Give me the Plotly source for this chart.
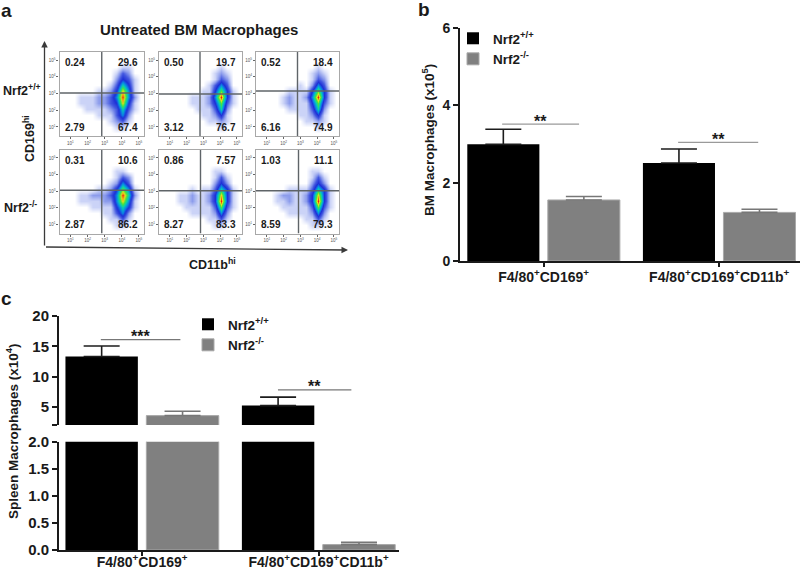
import numpy as np
import plotly.graph_objects as go

W, H = 800, 570
FONT = "Liberation Sans"
INK = "#1a1a1a"

# ---------- panel a : flow cytometry (hand-read density levels, top row first) ----------
density_r1c1 = ["00000000000000","00000000000000","00000000001100","00000000013200",
                "00000000024310","00000000136410","00000011248510","00011122359520",
                "00011122348410","00001111236310","00000011135200","00000000123100",
                "00000000011000","00000000000000"]
density_r1c2 = ["00000000000000","00000000000000","00000000001000","00000000012100",
                "00000000013200","00000000135300","00000001147410","00000111259410",
                "00000111247310","00000011136200","00000001124100","00000000112100",
                "00000000001000","00000000000000"]
density_r1c3 = ["00000000000000","00000000000000","00000000001000","00000000012100",
                "00000000013200","00000001025300","00000111147410","00001211259410",
                "00001211147310","00000111136200","00000001124100","00000000112100",
                "00000000001000","00000000000000"]
density_r2c1 = ["00000000000000","00000000000000","00000000000000","00000000011000",
                "00000000013200","00000000125300","00000011247510","00011222359620",
                "00011112258510","00000111146410","00000001135200","00000000113100",
                "00000000011000","00000000000000"]
density_r2c2 = ["00000000000000","00000000000000","00000000000000","00000000011000",
                "00000000013100","00000000024200","00000101136410","00011211248410",
                "00011211249410","00001111137310","00000111125200","00000000113100",
                "00000000011000","00000000000000"]
density_r2c3 = ["00000000000000","00000000000000","00000000000000","00000000011000",
                "00000000013100","00000000024200","00000111136410","00012211248410",
                "00011211249410","00001111137310","00000111125200","00000000113100",
                "00000000011000","00000000000000"]
densities = [density_r1c1, density_r1c2, density_r1c3, density_r2c1, density_r2c2, density_r2c3]

gate_x = [2.83, 2.80, 2.83, 2.83, 2.83, 2.89]
gate_y = [3.03, 2.97, 3.15, 3.06, 3.03, 3.03]
quadrants = [["0.24", "29.6", "2.79", "67.4"], ["0.50", "19.7", "3.12", "76.7"],
             ["0.52", "18.4", "6.16", "74.9"], ["0.31", "10.6", "2.87", "86.2"],
             ["0.86", "7.57", "8.27", "83.3"], ["1.03", "11.1", "8.59", "79.3"]]
flow_ticks = [1, 2, 3, 4, 5]
flow_ticktext = ["10<sup>1</sup>", "10<sup>2</sup>", "10<sup>3</sup>", "10<sup>4</sup>", "10<sup>5</sup>"]
flow_xrange = [0.36, 5.30]
flow_yrange = [0.46, 5.48]
flow_scale = [[0, "#ffffff"], [0.11, "#ccd4f7"], [0.22, "#8d9dec"], [0.33, "#4358e0"],
              [0.44, "#1d2fd6"], [0.55, "#0a86e6"], [0.66, "#06d0b0"], [0.77, "#48e23c"],
              [0.88, "#f2e41c"], [1, "#e8200c"]]

# ---------- panel b ----------
groups = [0, 1]
group_labels = ["F4/80<sup>+</sup>CD169<sup>+</sup>", "F4/80<sup>+</sup>CD169<sup>+</sup>CD11b<sup>+</sup>"]
wt_name, ko_name = "Nrf2<sup>+/+</sup>", "Nrf2<sup>-/-</sup>"
bm_wt, bm_wt_err = [3.0, 2.52], [0.39, 0.36]
bm_ko, bm_ko_err = [1.57, 1.25], [0.09, 0.08]
bm_sig_x = [[-0.236, 0.202], [0.766, 1.222]]
bm_sig_y = [3.52, 3.05]
bm_sig_text = ["**", "**"]

# ---------- panel c ----------
sp_wt, sp_wt_err = [13.3, 5.2], [1.75, 1.4]
sp_ko, sp_ko_err = [3.55, 0.10], [0.72, 0.04]
sp_sig_x = [[-0.234, 0.217], [0.77, 1.186]]
sp_sig_y = [16.1, 7.8]
sp_sig_text = ["***", "**"]


def px(x):
    return x / W


def py(y):
    return 1 - y / H


fig = go.Figure()
layout = dict(
    width=W, height=H, margin=dict(l=0, r=0, t=0, b=0, autoexpand=False), paper_bgcolor="white", plot_bgcolor="white",
    font=dict(family=FONT, color=INK), barmode="group", showlegend=True,
)
annotations = []


def note(text, x, y, size=12, bold=True, angle=0, anchor="center", color=INK):
    annotations.append(dict(text=f"<b>{text}</b>" if bold else text, x=px(x), y=py(y), xref="paper", yref="paper",
                            xanchor=anchor, yanchor="middle", showarrow=False, textangle=angle,
                            font=dict(family=FONT, size=size, color=color)))


# flow panels
frames = [(59.5, 144, 52, 136), (159, 242, 52, 136), (256, 339, 52, 136),
          (59.5, 144, 150, 233.5), (159, 242, 150, 233.5), (256, 339, 150, 233.5)]
for i, (grid, frame) in enumerate(zip(densities, frames)):
    n = i + 1
    s = "" if n == 1 else str(n)
    z = [[int(c) for c in row] for row in grid]
    xc = flow_xrange[0] + (np.arange(14) + 0.5) * (flow_xrange[1] - flow_xrange[0]) / 14
    yc = flow_yrange[1] - (np.arange(14) + 0.5) * (flow_yrange[1] - flow_yrange[0]) / 14
    fig.add_trace(go.Heatmap(z=z, x=xc, y=yc, colorscale=flow_scale, zmin=0, zmax=9, zsmooth="best",
                             showscale=False, hoverinfo="skip", xaxis=f"x{s}", yaxis=f"y{s}"))
    fig.add_trace(go.Scatter(x=[gate_x[i], gate_x[i]], y=flow_yrange, mode="lines", showlegend=False,
                             line=dict(color="#5f6468", width=1.4), xaxis=f"x{s}", yaxis=f"y{s}"))
    fig.add_trace(go.Scatter(x=flow_xrange, y=[gate_y[i], gate_y[i]], mode="lines", showlegend=False,
                             line=dict(color="#5f6468", width=1.4), xaxis=f"x{s}", yaxis=f"y{s}"))
    x0, x1, y0, y1 = frame
    common = dict(showline=True, mirror=True, linecolor="#a8a8a8", linewidth=1.3, showgrid=False, zeroline=False,
                  ticks="outside", ticklen=2, tickwidth=0.7, tickcolor="#666", tickvals=flow_ticks,
                  ticktext=flow_ticktext, tickfont=dict(size=4.5, color="#555", family=FONT))
    layout[f"xaxis{s}"] = dict(domain=[px(x0), px(x1)], range=flow_xrange, anchor=f"y{s}", **common)
    layout[f"yaxis{s}"] = dict(domain=[py(y1), py(y0)], range=flow_yrange, anchor=f"x{s}", **common)
    lab_l, lab_r = x0 + 15, x1 - 16
    lab_t, lab_b = y0 + 10.5, y1 - 9
    for txt, lx, ly in zip(quadrants[i], [lab_l, lab_r, lab_l, lab_r], [lab_t, lab_t, lab_b, lab_b]):
        note(txt, lx, ly, size=10)


def bar_axes(sx, sy, xdom, ydom, xr, yr, tickvals, ticktext, show_x=True, tick_size=14, label_shift=-2):
    layout[f"xaxis{sx}"] = dict(
        domain=xdom, range=xr, anchor=f"y{sy}", showgrid=False, zeroline=False, showline=show_x, linecolor=INK,
        linewidth=2, ticks="outside" if show_x else "", ticklen=4, tickwidth=2, tickcolor=INK, tickvals=groups,
        ticktext=group_labels if show_x else ["", ""], ticklabelstandoff=label_shift,
        tickfont=dict(size=14, family=FONT, weight="bold", color=INK))
    layout[f"yaxis{sy}"] = dict(
        domain=ydom, range=yr, anchor=f"x{sx}", showgrid=False, zeroline=False, showline=True, linecolor=INK,
        linewidth=2, ticks="outside", ticklen=5, tickwidth=2, tickcolor=INK, tickvals=tickvals, ticktext=ticktext,
        tickfont=dict(size=tick_size, family=FONT, weight="bold", color=INK))


def bars(wt, wt_e, ko, ko_e, ax, legend=None):
    cfg = dict(xaxis=ax[0], yaxis=ax[1])
    fig.add_trace(go.Bar(x=groups, y=wt, name=wt_name, marker=dict(color="#000000", line=dict(width=0)),
                         error_y=dict(type="data", symmetric=False, array=wt_e, arrayminus=[0, 0], color="#1c1c1c",
                                      thickness=1.6, width=18), offsetgroup="wt", showlegend=legend is not None,
                         legend=legend or "legend", **cfg))
    fig.add_trace(go.Bar(x=groups, y=ko, name=ko_name, marker=dict(color="#808080", line=dict(color="#a9a9a9", width=1)),
                         error_y=dict(type="data", symmetric=False, array=ko_e, arrayminus=[0, 0], color="#777777",
                                      thickness=1.6, width=18), offsetgroup="ko", showlegend=legend is not None,
                         legend=legend or "legend", **cfg))


def sig(xs, ys, texts, ax, dy_text, color):
    for xp, yv, t in zip(xs, ys, texts):
        fig.add_trace(go.Scatter(x=xp, y=[yv, yv], mode="lines", showlegend=False, xaxis=ax[0], yaxis=ax[1],
                                 line=dict(color=color, width=1.3)))
        annotations.append(dict(text=f"<b>{t}</b>", x=sum(xp) / 2, y=yv, xref=ax[0], yref=ax[1], yshift=dy_text,
                                showarrow=False, font=dict(size=16, family=FONT, color=INK)))


# panel b
bars(bm_wt, bm_wt_err, bm_ko, bm_ko_err, ("x7", "y7"), legend="legend")
sig(bm_sig_x, bm_sig_y, bm_sig_text, ("x7", "y7"), 3, "#9a9a9a")
bar_axes(7, 7, [px(460), px(800)], [py(261), py(27.7)], [-0.476, 1.46], [0, 6], [0, 2, 4, 6], ["0", "2", "4", "6"])

# panel c, upper and lower part of the broken axis
bars(sp_wt, sp_wt_err, sp_ko, sp_ko_err, ("x8", "y8"), legend="legend2")
bars(sp_wt, sp_wt_err, sp_ko, sp_ko_err, ("x9", "y9"))
sig(sp_sig_x, sp_sig_y, sp_sig_text, ("x8", "y8"), 3, "#777777")
bar_axes(8, 8, [px(59), px(399)], [py(425), py(316)], [-0.471, 1.456], [2, 20], [2, 5, 10, 15, 20],
         ["", "5", "10", "15", "20"], show_x=False, tick_size=15)
bar_axes(9, 9, [px(59), px(399)], [py(550), py(441.7)], [-0.471, 1.456], [0, 2], [0, 0.5, 1, 1.5, 2],
         ["0.0", "0.5", "1.0", "1.5", "2.0"], tick_size=15, label_shift=-6)
layout["xaxis8"]["visible"] = False

layout["bargap"] = 0.083
layout["bargroupgap"] = 0.105
legend_common = dict(bgcolor="rgba(0,0,0,0)", borderwidth=0, xanchor="left", yanchor="top", itemclick=False,
                     font=dict(size=13.5, family=FONT, weight="bold", color=INK), tracegroupgap=0)
layout["legend"] = dict(x=px(453), y=py(23), **legend_common)
layout["legend2"] = dict(x=px(188), y=py(309), **legend_common)

# texts
note("a", 6, 10, size=19)
note("b", 424, 9, size=19)
note("c", 6, 298, size=19)
note("Untreated BM Macrophages", 199, 30, size=15)
note("Nrf2<sup>+/+</sup>", 22, 90, size=12.5)
note("Nrf2<sup>-/-</sup>", 20, 207, size=12.5)
note("CD169<sup>hi</sup>", 29, 138, size=12.5, angle=-90)
note("CD11b<sup>hi</sup>", 212, 264, size=12.5)
note("BM Macrophages (x10<sup>5</sup>)", 428, 140, size=13.5, angle=-90)
note("Spleen Macrophages (x10<sup>4</sup>)", 12, 431, size=13.5, angle=-90)

# panel a axis arrows
for (tx, ty) in [(44.5, 41), (348, 250)]:
    annotations.append(dict(x=px(tx), y=py(ty), xref="paper", yref="paper", axref="pixel", ayref="pixel",
                            ax=44.5 - tx, ay=247 - ty, text="", showarrow=True, arrowhead=2, arrowsize=1,
                            arrowwidth=1.3, arrowcolor="#3a3a3a"))
layout["annotations"] = annotations
fig.update_layout(**layout)
fig.write_html("out.html", post_script="document.body.style.margin='0';", config={"displayModeBar": False})
